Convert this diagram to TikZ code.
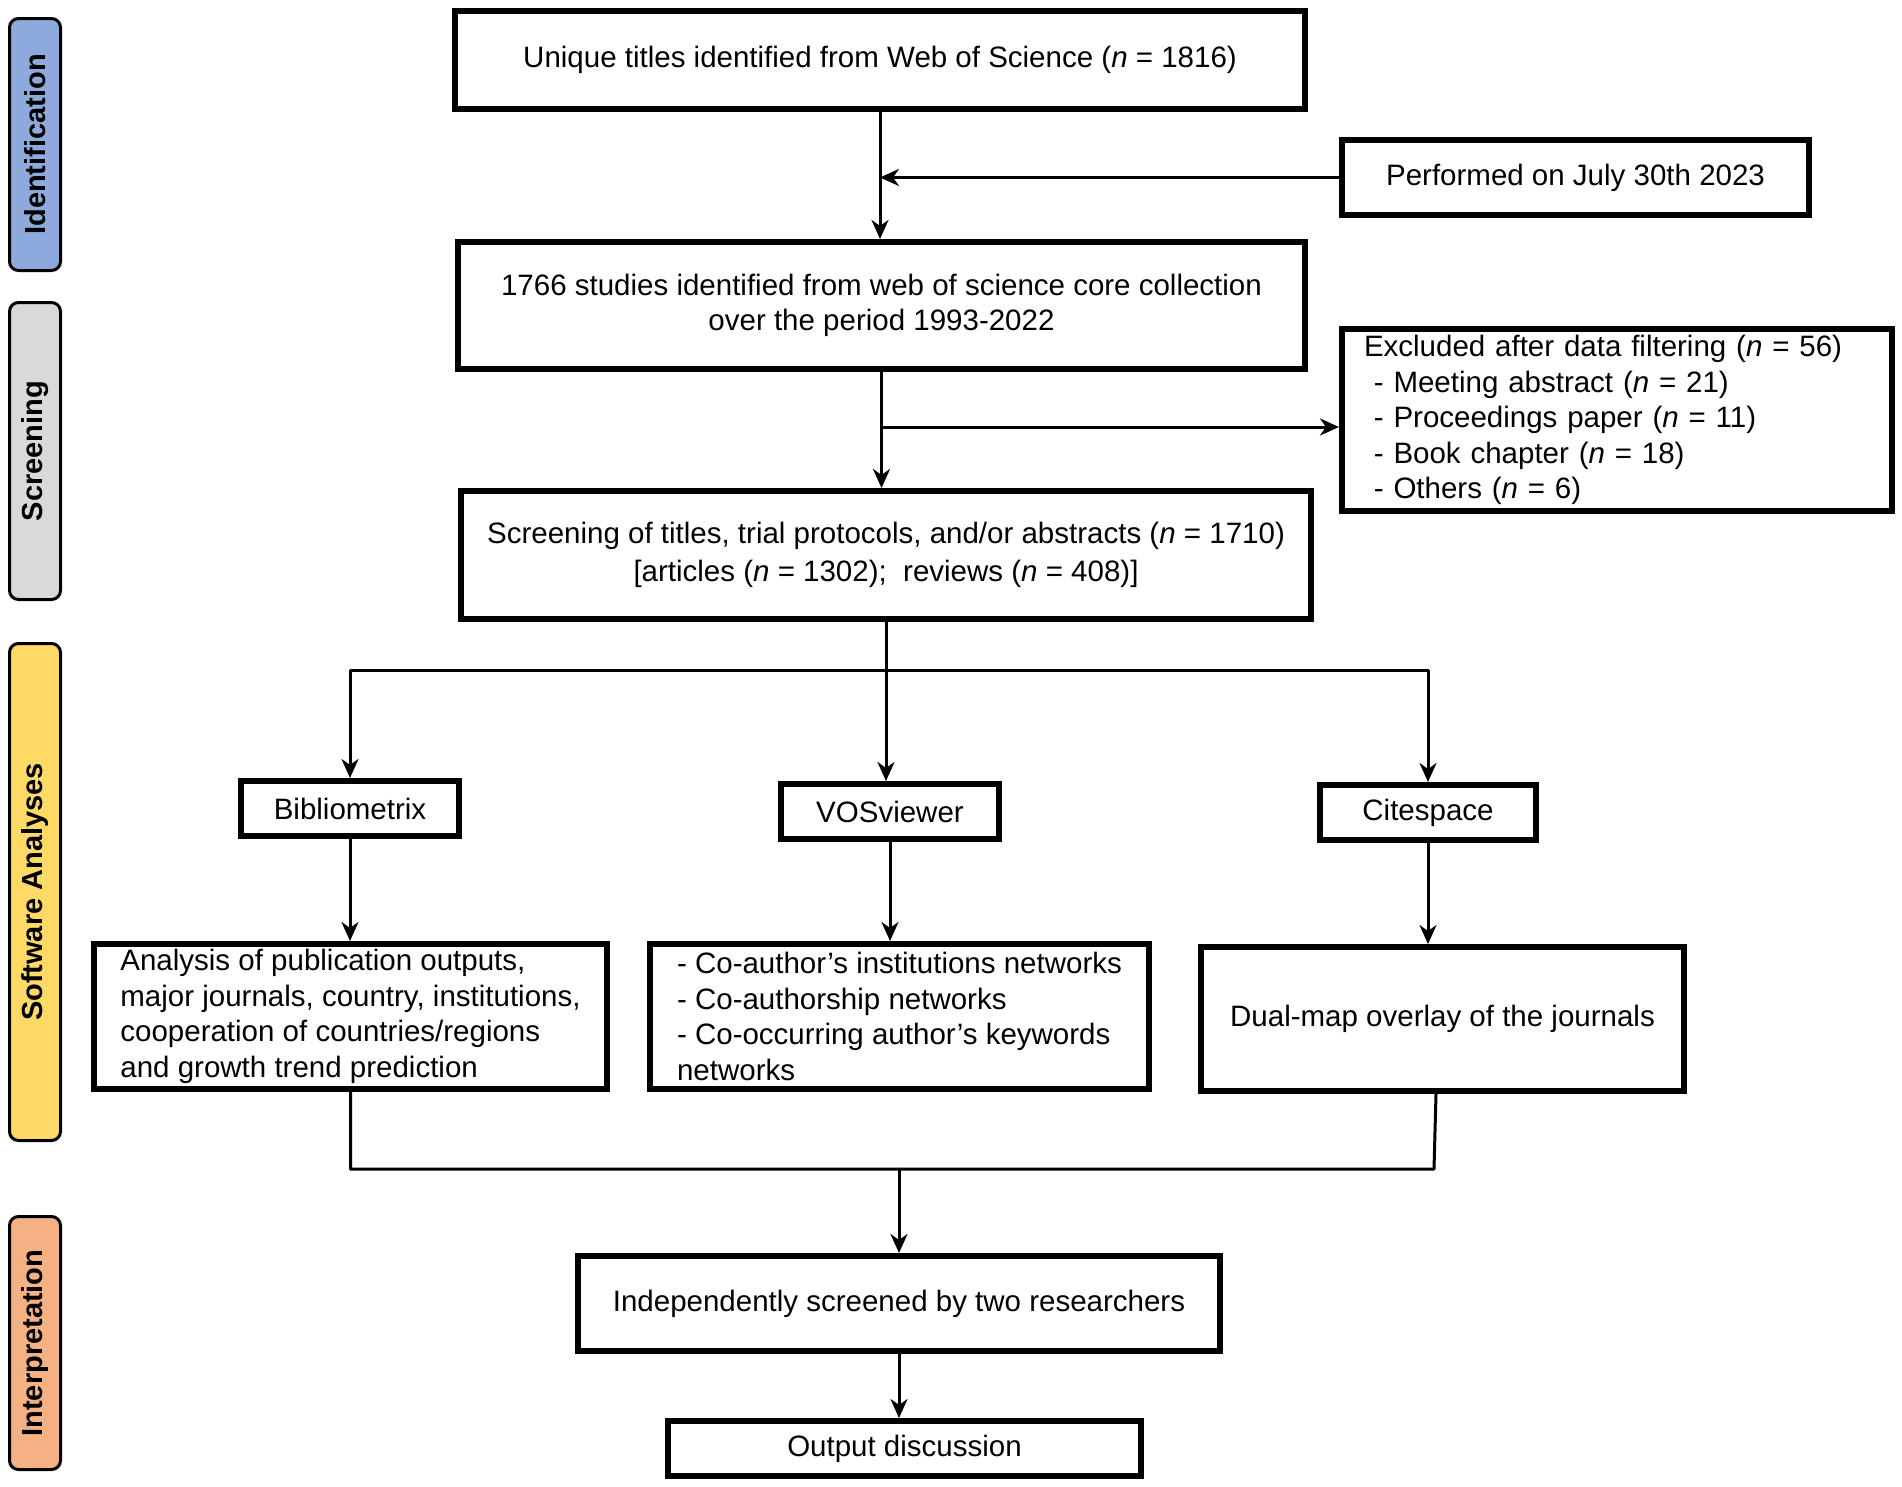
\documentclass[tikz,border=0pt]{standalone}
\usepackage{fontspec}
\setmainfont{Liberation Sans}
\usetikzlibrary{arrows.meta}
\definecolor{identblue}{HTML}{8EA9DB}
\definecolor{screengray}{HTML}{D9D9D9}
\definecolor{softyellow}{HTML}{FFD966}
\definecolor{interporange}{HTML}{F4B183}
\begin{document}
\begin{tikzpicture}[x=1pt,y=-1pt,font=\fontsize{29.5}{35.5}\selectfont,line join=round,line cap=round,>={Stealth[length=19pt,width=17pt,inset=6pt]},
	box/.style={draw,line width=6pt,line join=miter,line cap=rect,inner sep=0pt,align=center},
	lbox/.style={box,align=left},
	stage/.style={draw,line width=3pt,rounded corners=9pt,rotate=90,inner sep=0pt,minimum height=51pt,font=\fontsize{29}{35}\selectfont\bfseries},
	link/.style={line width=3pt}]
			\useasboundingbox (0,0) rectangle (1902,1486);
			% stages on the left
			\node[stage,fill=identblue,minimum width=252pt] (sident) at (35,144.5) {Identification};
			\node[stage,fill=screengray,minimum width=297pt] (sscreen) at (35,451) {Screening};
			\node[stage,fill=softyellow,minimum width=497pt] (ssoft) at (35,892) {Software Analyses};
			\node[stage,fill=interporange,minimum width=253pt] (sinterp) at (35,1343) {Interpretation};
			% boxes
			\node[box,minimum width=850pt,minimum height=98pt] (wos) at (880,60) {Unique titles identified from Web of Science (\textit{n} = 1816)};
			\node[box,minimum width=467pt,minimum height=75pt] (perf) at (1575.5,177.5) {Performed on July 30th 2023};
			\node[box,minimum width=847pt,minimum height=127pt] (core) at (881.5,305.5) {1766 studies identified from web of science core collection\\over the period 1993-2022};
			\node[lbox,minimum width=550pt,minimum height=182pt,text width=506pt,inner xsep=22pt] (excl) at (1617,420) {Excluded after data filtering (\textit{n} = 56)\\
				\ - Meeting abstract (\textit{n} = 21)\\
				\ - Proceedings paper (\textit{n} = 11)\\
				\ - Book chapter (\textit{n} = 18)\\
				\ - Others (\textit{n} = 6)};
			\node[box,minimum width=850pt,minimum height=128pt,font=\fontsize{29.5}{37.5}\selectfont] (scr) at (886,555) {Screening of titles, trial protocols, and/or abstracts (\textit{n} = 1710)\\\relax [articles (\textit{n} = 1302);\ \ reviews (\textit{n} = 408)]};
			\node[box,minimum width=218pt,minimum height=55pt] (biblio) at (350,808.5) {Bibliometrix};
			\node[box,minimum width=218pt,minimum height=55pt] (vos) at (890,811.5) {VOSviewer};
			\node[box,minimum width=216pt,minimum height=55pt] (cite) at (1428,812.5) {Citespace};
			\node[lbox,minimum width=513pt,minimum height=145pt] (anal) at (350.5,1016.5) {Analysis of publication outputs,\\major journals, country, institutions,\\cooperation of countries/regions\\and growth trend prediction};
			\node[lbox,minimum width=499pt,minimum height=145pt] (vosnet) at (899.5,1016.5) {- Co-author’s institutions networks\\- Co-authorship networks\\- Co-occurring author’s keywords\\networks};
			\node[box,minimum width=483pt,minimum height=144pt] (dual) at (1442.5,1019) {Dual-map overlay of the journals};
			\node[box,minimum width=642pt,minimum height=95pt] (indep) at (899,1303.5) {Independently screened by two researchers};
			\node[box,minimum width=473pt,minimum height=55pt] (outp) at (904.5,1448.5) {Output discussion};
			% connectors
			\draw[->,link] (wos.south) -- (wos.south |- core.north);
			\draw[->,link] (perf.west) -- (perf.west -| wos.south);
			\draw[->,link] (core.south) -- (core.south |- scr.north);
			\coordinate (exsplit) at (core.south |- 0,427);
			\draw[->,link] (exsplit) -- (exsplit -| excl.west);
			\draw[->,link] (scr.south) -- (scr.south |- vos.north);
			\coordinate (bus) at (scr.south |- 0,670);
			\draw[->,link] (bus) -| (biblio.north);
			\draw[->,link] (bus) -| (cite.north);
			\foreach \s/\t in {biblio/anal,vos/vosnet,cite/dual}
				\draw[->,link] (\s.south) -- (\s.south |- \t.north);
			\coordinate (merge) at (indep.north |- 0,1169);
			\draw[link] (anal.south) |- (1434,1169) -- (1436,0 |- dual.south);
			\draw[->,link] (merge) -- (indep.north);
			\draw[->,link] (indep.south) -- (indep.south |- outp.north);
		\end{tikzpicture}
\end{document}
